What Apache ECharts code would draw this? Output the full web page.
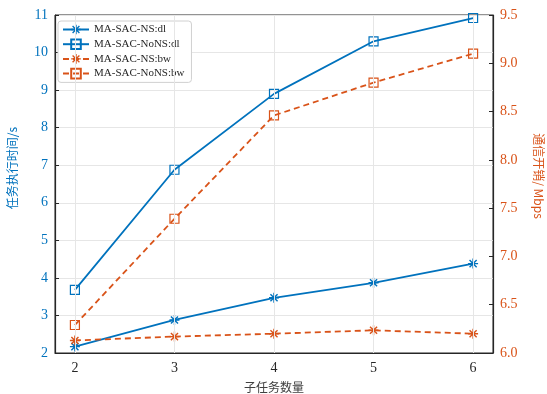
<!DOCTYPE html>
<html>
<head>
<meta charset="utf-8">
<script src="https://cdn.jsdelivr.net/npm/echarts@6/dist/echarts.min.js"></script>
<style>html,body{margin:0;padding:0;background:#fff}#c{width:547px;height:394px}</style>
</head>
<body>
<div id="c"></div>
<script>
const subtasks = [2, 3, 4, 5, 6];
const nsDl = [2.17, 2.88, 3.47, 3.87, 4.38];
const nonsDl = [3.68, 6.88, 8.9, 10.3, 10.92];
const nsBw = [6.13, 6.17, 6.2, 6.235, 6.2];
const nonsBw = [6.29, 7.39, 8.46, 8.8, 9.1];
const leftTicks = [2, 3, 4, 5, 6, 7, 8, 9, 10, 11];
const rightTicks = [6.0, 6.5, 7.0, 7.5, 8.0, 8.5, 9.0, 9.5];

const BLUE = '#0072BD', ORANGE = '#D95319';
const SERIF = '"Liberation Serif","DejaVu Serif",serif';
const CJK = '"Noto Sans CJK SC","Liberation Serif",serif';
const STAR = 'path://M8.6,0h2.8v20h-2.8z M0,8.6h20v2.8h-20z M1.9,3.9L3.9,1.9L18.1,16.1L16.1,18.1z M16.1,1.9L18.1,3.9L3.9,18.1L1.9,16.1z';

function pairs(ys) { return subtasks.map((x, i) => [x, ys[i]]); }

function mk(name, data, color, yIdx, symbol, dashed) {
  const isRect = symbol === 'rect';
  return {
    name, type: 'line', yAxisIndex: yIdx, data: pairs(data), z: 3,
    symbol, symbolSize: isRect ? 9 : 10, symbolKeepAspect: true, showSymbol: true,
    lineStyle: { color, width: 1.8, type: dashed ? [6, 4] : 'solid' },
    itemStyle: isRect ? { color: 'rgba(255,255,255,0)', borderColor: color, borderWidth: 1.2 } : { color, borderWidth: 0 },
    color,
    emphasis: { disabled: true }
  };
}

const chart = echarts.init(document.getElementById('c'), null, { renderer: 'canvas' });
chart.setOption({
  animation: false,
  backgroundColor: '#fff',
  grid: { left: 55, right: 54, top: 15, bottom: 41, outerBoundsMode: 'none', containLabel: false, show: true, borderColor: '#262626', borderWidth: 1, backgroundColor: 'transparent' },
  legend: {
    orient: 'vertical', left: 58, top: 21,
    padding: [3, 7, 3, 4], itemGap: 3.4, itemWidth: 26, itemHeight: 12,
    backgroundColor: '#fff', borderColor: '#d0d0d0', borderWidth: 1, borderRadius: 3,
    textStyle: { fontFamily: SERIF, fontSize: 11, color: '#262626' },
    data: ['MA-SAC-NS:dl', 'MA-SAC-NoNS:dl', 'MA-SAC-NS:bw', 'MA-SAC-NoNS:bw']
  },
  xAxis: {
    type: 'value', min: 1.8, max: 6.2,
    name: '子任务数量', nameLocation: 'middle', nameGap: 28,
    nameTextStyle: { fontFamily: CJK, fontSize: 12, color: '#404040' },
    axisLine: { lineStyle: { color: '#262626', width: 1.2 } },
    axisTick: { inside: true, length: 4, customValues: subtasks, lineStyle: { color: '#262626' } },
    axisLabel: { customValues: subtasks, fontFamily: SERIF, fontSize: 14, color: '#262626', margin: 8 },
    splitLine: { show: false }
  },
  yAxis: [
    {
      type: 'value', min: 2, max: 11, interval: 1, position: 'left',
      name: '任务执行时间/s', nameLocation: 'middle', nameGap: 37,
      nameTextStyle: { fontFamily: CJK, fontSize: 12, color: BLUE, padding: [0, 0, 0, 32] },
      axisLine: { show: true, lineStyle: { color: '#262626', width: 1.2 } },
      axisTick: { inside: true, length: 4, lineStyle: { color: '#262626' } },
      axisLabel: { fontFamily: SERIF, fontSize: 14, color: BLUE, margin: 7 },
      splitLine: { show: true, lineStyle: { color: '#e6e6e6', width: 1 } }
    },
    {
      type: 'value', min: 6, max: 9.5, interval: 0.5, position: 'right',
      name: '通信开销/ Mbps', nameLocation: 'middle', nameGap: 40, nameRotate: -90,
      nameTextStyle: { fontFamily: CJK, fontSize: 12, color: ORANGE, padding: [0, 16, 0, 0] },
      axisLine: { show: true, lineStyle: { color: '#262626', width: 1.2 } },
      axisTick: { inside: true, length: 4, lineStyle: { color: '#262626' } },
      axisLabel: { fontFamily: SERIF, fontSize: 14, color: ORANGE, margin: 7, formatter: v => v.toFixed(1) },
      splitLine: { show: false }
    }
  ],
  series: [
    {
      name: 'grid-x', type: 'line', data: [], z: 1, silent: true,
      markLine: {
        silent: true, symbol: 'none', label: { show: false },
        lineStyle: { color: '#e6e6e6', width: 1, type: 'solid' },
        data: subtasks.map(v => ({ xAxis: v }))
      }
    },
    mk('MA-SAC-NS:dl', nsDl, BLUE, 0, STAR, false),
    mk('MA-SAC-NoNS:dl', nonsDl, BLUE, 0, 'rect', false),
    mk('MA-SAC-NS:bw', nsBw, ORANGE, 1, STAR, true),
    mk('MA-SAC-NoNS:bw', nonsBw, ORANGE, 1, 'rect', true)
  ]
});
</script>
</body>
</html>
